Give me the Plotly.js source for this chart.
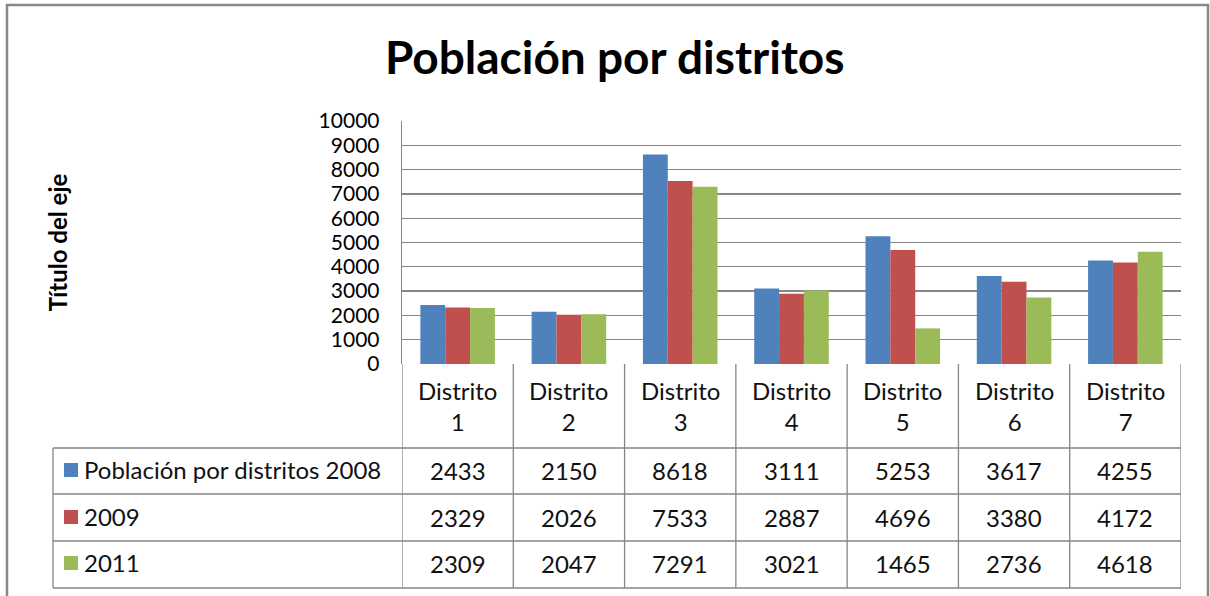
<!DOCTYPE html>
<html>
<head>
<meta charset="utf-8">
<script src="https://cdn.plot.ly/plotly-3.0.1.min.js"></script>
<style>html,body{margin:0;padding:0;background:#fff;}#chart{width:1210px;height:596px;}</style>
</head>
<body>
<div id="chart"></div>
<script>
const categories = ['Distrito 1','Distrito 2','Distrito 3','Distrito 4','Distrito 5','Distrito 6','Distrito 7'];
const seriesNames = ['Población por distritos 2008','2009','2011'];
const values2008 = [2433, 2150, 8618, 3111, 5253, 3617, 4255];
const values2009 = [2329, 2026, 7533, 2887, 4696, 3380, 4172];
const values2011 = [2309, 2047, 7291, 3021, 1465, 2736, 4618];
const colors = ['#4F81BD', '#C0504D', '#9BBB59'];
const allValues = [values2008, values2009, values2011];

const FONT = 'Lato, "Open Sans", sans-serif';
const W = 1210, H = 596;
const M = {l: 402, r: 29, t: 121, b: 232};
const PW = W - M.l - M.r, PH = H - M.t - M.b;
const px2x = p => (p - M.l) / PW;
const px2y = p => (H - M.b - p) / PH;
const GRID = '#868686';
const TXT = '#111111';

const traces = allValues.map((vals, i) => ({
  type: 'bar', name: seriesNames[i], x: categories, y: vals,
  marker: {color: colors[i]}, showlegend: false, hoverinfo: 'x+y+name'
}));

const shapes = [];
const annotations = [];
const headerBottom = 448, rowLines = [494, 541, 588];
const rowCenters = [470, 517, 563];
const tableLeft = 53;

// vertical lines between categories (header + rows)
for (let i = 0; i <= categories.length; i++) {
  shapes.push({type: 'line', xref: 'x', yref: 'paper', x0: i - 0.5, x1: i - 0.5,
    y0: 0, y1: px2y(rowLines[2]), line: {color: GRID, width: 1.3}});
}
// horizontal lines
[headerBottom].concat(rowLines).forEach(py => {
  shapes.push({type: 'line', xref: 'paper', yref: 'paper', x0: px2x(tableLeft), x1: 1,
    y0: px2y(py), y1: px2y(py), line: {color: GRID, width: 1.3}});
});
// left border of legend column
shapes.push({type: 'line', xref: 'paper', yref: 'paper', x0: px2x(tableLeft), x1: px2x(tableLeft),
  y0: px2y(headerBottom), y1: px2y(rowLines[2]), line: {color: GRID, width: 1.3}});
// outer chart border
shapes.push({type: 'path', xref: 'paper', yref: 'paper',
  path: `M ${px2x(7)} ${px2y(610)} L ${px2x(7)} ${px2y(5)} L ${px2x(1208)} ${px2y(5)} L ${px2x(1208)} ${px2y(610)}`,
  line: {color: '#888888', width: 2.5}});

// header labels
categories.forEach(c => {
  annotations.push({xref: 'x', yref: 'paper', x: c, y: px2y(406), text: c.replace(' ', '<br>'),
    showarrow: false, font: {family: FONT, size: 24, color: TXT}, yanchor: 'middle', xanchor: 'center'});
});
// values
allValues.forEach((vals, r) => {
  vals.forEach((v, i) => {
    annotations.push({xref: 'x', yref: 'paper', x: categories[i], y: px2y(rowCenters[r]), text: String(v),
      showarrow: false, font: {family: FONT, size: 24, color: TXT}, yanchor: 'middle', xanchor: 'center'});
  });
  // legend key and name
  shapes.push({type: 'rect', xref: 'paper', yref: 'paper', x0: px2x(64), x1: px2x(78),
    y0: px2y(rowCenters[r] - 7), y1: px2y(rowCenters[r] + 7), line: {width: 0}, fillcolor: colors[r]});
  annotations.push({xref: 'paper', yref: 'paper', x: px2x(82), y: px2y(rowCenters[r] - 1), text: seriesNames[r],
    showarrow: false, font: {family: FONT, size: 24, color: TXT}, yanchor: 'middle', xanchor: 'left'});
});

const layout = {
  width: W, height: H, margin: M,
  paper_bgcolor: '#fff', plot_bgcolor: '#fff',
  font: {family: FONT, color: '#000'},
  title: {text: '<b>Población por distritos</b>', font: {family: FONT, size: 46, color: '#000'},
    xref: 'container', x: 0.508, yref: 'container', y: 1 - 58 / H, yanchor: 'middle', xanchor: 'center'},
  barmode: 'group', bargap: 0.33, bargroupgap: 0,
  xaxis: {type: 'category', showticklabels: false, showgrid: false, zeroline: false, showline: false,
    range: [-0.5, 6.5], fixedrange: true},
  yaxis: {range: [0, 10000], dtick: 1000, tick0: 0, tickformat: 'd', showgrid: true, gridcolor: GRID, gridwidth: 1.3,
    zeroline: false, showline: true, linecolor: GRID, linewidth: 1.3, ticks: '',
    ticklabelstandoff: 17, tickfont: {family: FONT, size: 21, color: '#000'},
    title: {text: '<b>Título del eje</b>', font: {family: FONT, size: 24, color: '#000'}, standoff: 244},
    fixedrange: true},
  shapes: shapes, annotations: annotations, showlegend: false
};

Plotly.newPlot('chart', traces, layout, {displayModeBar: false, staticPlot: true});
</script>
</body>
</html>
